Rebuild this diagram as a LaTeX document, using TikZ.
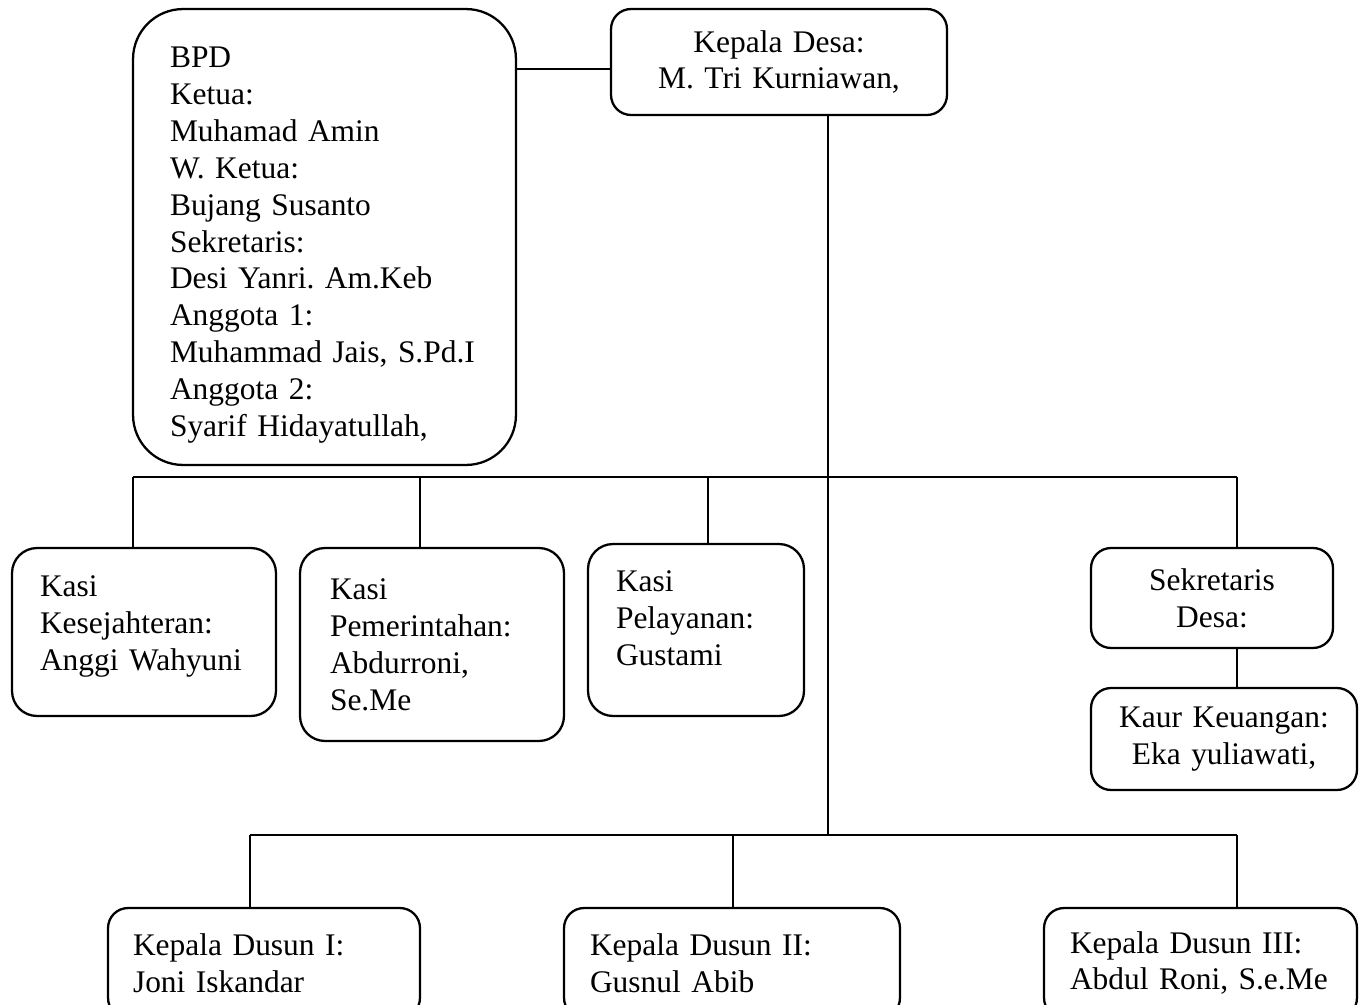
\documentclass[tikz,border=0pt]{standalone}
\usepackage{fontspec}
\setmainfont{Liberation Serif}
\frenchspacing
\begin{document}
\begin{tikzpicture}[x=0.02cm, y=-0.02cm,
  box/.style={draw, line width=1.3pt, rounded corners=0.4cm, inner ysep=0pt,
    font=\fontsize{17.9}{21}\selectfont},
  link/.style={line width=0.8pt}]
\useasboundingbox (0,0) rectangle (1365,1004);

% Kepala Desa and BPD
\node[box, rounded corners=1cm, align=left, text width=6.18cm, inner xsep=0.74cm,
  minimum height=9.12cm] (bpd) at (324.5,237) {\rule{0pt}{21pt}BPD\\Ketua:\\Muhamad Amin\\W. Ketua:\\Bujang Susanto\\Sekretaris:\\Desi Yanri. Am.Keb\\Anggota 1:\\Muhammad Jais, S.Pd.I\\Anggota 2:\\Syarif Hidayatullah,};
\node[box, align=center, text width=6.72cm, inner xsep=0pt, minimum height=2.12cm]
  (kades) at (779,62) {Kepala Desa:\\M. Tri Kurniawan,};
\draw[link] (kades.west |- 0,69) -- (bpd.east |- 0,69);

% Kasi row
\node[box, rounded corners=0.5cm, align=left, text width=4.16cm, inner xsep=0.56cm,
  minimum height=3.36cm] (kesra) at (144,632) {Kasi\\Kesejahteran:\\Anggi Wahyuni\rule[-10.5pt]{0pt}{0pt}};
\node[box, rounded corners=0.5cm, align=left, text width=4.08cm, inner xsep=0.6cm,
  minimum height=3.86cm] (pemerintahan) at (432,644.5) {Kasi\\Pemerintahan:\\Abdurroni,\\Se.Me};
\node[box, rounded corners=0.5cm, align=left, text width=3.2cm, inner xsep=0.56cm,
  minimum height=3.44cm] (pelayanan) at (696,630) {Kasi\\Pelayanan:\\Gustami\rule[-13.5pt]{0pt}{0pt}};
\node[box, align=center, text width=4.84cm, inner xsep=0pt, minimum height=2cm]
  (sekdes) at (1212,598) {Sekretaris\\Desa:};
\node[box, align=center, text width=5.32cm, inner xsep=0pt, minimum height=2.04cm]
  (kaur) at (1224,739) {Kaur Keuangan:\\Eka yuliawati,};

% Kepala Dusun row
\node[box, align=left, text width=5.24cm, inner xsep=0.5cm, minimum height=2.2cm]
  (dusun1) at (264,963) {Kepala Dusun I:\\Joni Iskandar};
\node[box, align=left, text width=5.68cm, inner xsep=0.52cm, minimum height=2.2cm]
  (dusun2) at (732,963) {Kepala Dusun II:\\Gusnul Abib};
\node[box, align=left, text width=5.22cm, inner xsep=0.52cm, minimum height=2.2cm]
  (dusun3) at (1200.5,963) {Kepala Dusun III:\\Abdul Roni, S.e.Me\rule[-0.5pt]{0pt}{0pt}};

% Spine and bus lines
\coordinate (spine) at (828,835);
\coordinate (b1) at (133,477);
\coordinate (b2) at (420,477);
\coordinate (b3) at (708,477);
\coordinate (b4) at (1237,477);
\coordinate (d1) at (250,835);
\coordinate (d2) at (733,835);
\coordinate (d3) at (1237,835);
\draw[link] (kades.south -| spine) -- (spine);
\draw[link] (b1) -- (b4);
\draw[link] (b1) -- (b1 |- kesra.north);
\draw[link] (b2) -- (b2 |- pemerintahan.north);
\draw[link] (b3) -- (b3 |- pelayanan.north);
\draw[link] (b4) -- (b4 |- sekdes.north);
\draw[link] (sekdes.south -| b4) -- (kaur.north -| b4);
\draw[link] (d1) -- (d3);
\draw[link] (d1) -- (d1 |- dusun1.north);
\draw[link] (d2) -- (d2 |- dusun2.north);
\draw[link] (d3) -- (d3 |- dusun3.north);
\end{tikzpicture}
\end{document}
